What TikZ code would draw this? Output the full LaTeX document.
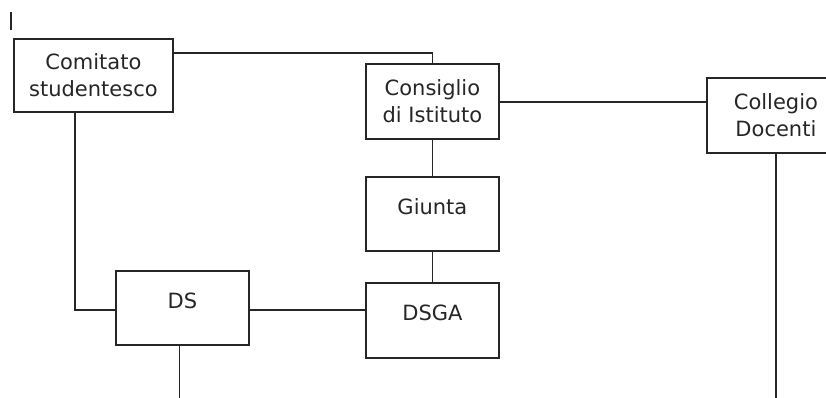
\documentclass[tikz,border=0pt]{standalone}
\usepackage{fontspec}
\setmainfont{DejaVu Sans}
\begin{document}
\begin{tikzpicture}[x=1pt, y=-1pt, line width=1.8pt,
  box/.style={draw=black!85, rectangle, inner sep=0pt, align=center,
    anchor=north west, font=\fontsize{21}{27}\selectfont, text=black!85},
  oneline/.style={text height=15pt, text depth=14pt},
  link/.style={draw=black!85, line width=1.8pt}]

  \useasboundingbox (0,0) rectangle (826,398);

  % Mark in the top left corner
  \draw[black!85, line width=1.4pt] (11,12) -- (11,30);

  % Boxes
  \node[box, minimum width=159pt, minimum height=73pt] (comitato) at (13,38)
    {Comitato\\studentesco};
  \node[box, minimum width=133pt, minimum height=75pt] (consiglio) at (365,63)
    {Consiglio\\di Istituto};
  \node[box, minimum width=138pt, minimum height=75pt] (collegio) at (706,77)
    {Collegio\\Docenti};
  \node[box, oneline, minimum width=133pt, minimum height=74pt] (giunta) at (365,176)
    {Giunta};
  \node[box, oneline, minimum width=133pt, minimum height=74pt] (ds) at (115,270)
    {DS};
  \node[box, oneline, minimum width=133pt, minimum height=75pt] (dsga) at (365,282)
    {DSGA};

  % Bend points and free ends
  \coordinate (topline) at (0,53);
  \coordinate (midline) at (0,102);
  \coordinate (leftline) at (75,310);
  \coordinate (bottom) at (0,398);

  % Connectors
  \draw[link] (comitato.east |- topline) -| (consiglio.north);
  \draw[link] (consiglio.east |- midline) -- (collegio.west |- midline);
  \draw[link] (consiglio.south) -- (giunta.north);
  \draw[link] (giunta.south) -- (dsga.north);
  \draw[link] (comitato.south -| leftline) |- (ds.west |- leftline);
  \draw[link] (ds.east |- leftline) -- (dsga.west |- leftline);
  \draw[link] ([xshift=-3pt]ds.south) -- ([xshift=-3pt]ds.south |- bottom);
  \draw[link] (collegio.south) -- (collegio.south |- bottom);

\end{tikzpicture}
\end{document}
